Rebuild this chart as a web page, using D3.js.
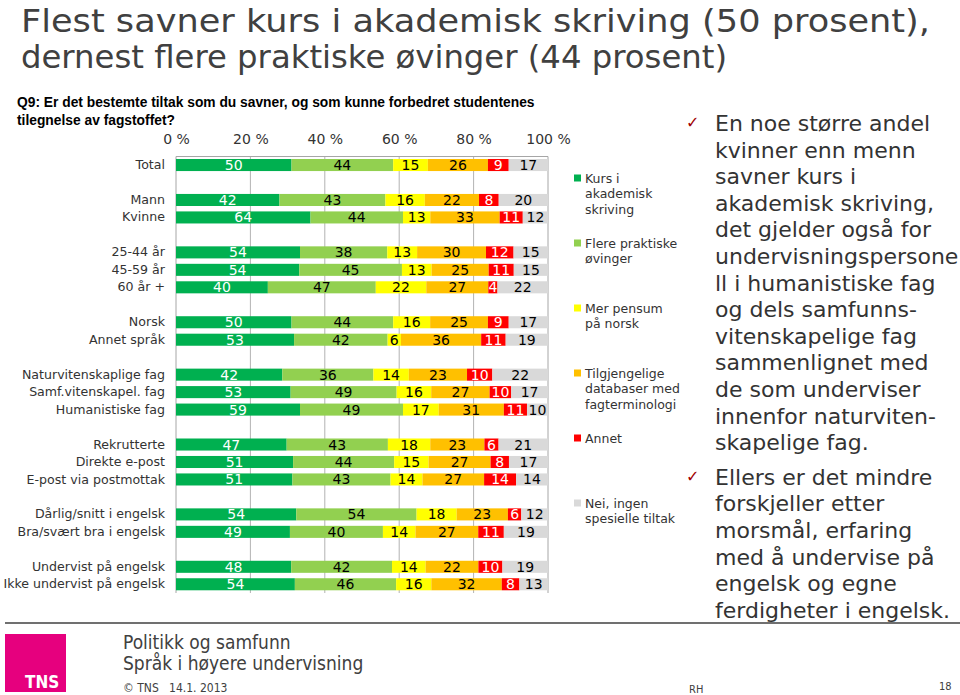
<!DOCTYPE html>
<html>
<head>
<meta charset="utf-8">
<script src="https://cdn.jsdelivr.net/npm/d3@7"></script>
<style>
  body { margin: 0; background: #fff; }
  svg { display: block; font-family: Verdana, "DejaVu Sans", sans-serif; }
</style>
</head>
<body>
<div id="chart"></div>
<script>
// data
var categories = ["Total", "Mann", "Kvinne", "25-44 år", "45-59 år", "60 år +",
  "Norsk", "Annet språk", "Naturvitenskaplige fag", "Samf.vitenskapel. fag",
  "Humanistiske fag", "Rekrutterte", "Direkte e-post", "E-post via postmottak",
  "Dårlig/snitt i engelsk", "Bra/svært bra i engelsk", "Undervist på engelsk",
  "Ikke undervist på engelsk"];
// first category of each new block (blank row drawn before it)
var groupStarts = ["Mann", "25-44 år", "Norsk", "Naturvitenskaplige fag",
  "Rekrutterte", "Dårlig/snitt i engelsk", "Undervist på engelsk"];

var seriesNames = ["Kurs i akademisk skriving", "Flere praktiske øvinger",
  "Mer pensum på norsk", "Tilgjengelige databaser med fagterminologi",
  "Annet", "Nei, ingen spesielle tiltak"];
var legendLines = [["Kurs i", "akademisk", "skriving"], ["Flere praktiske", "øvinger"],
  ["Mer pensum", "på norsk"], ["Tilgjengelige", "databaser med", "fagterminologi"],
  ["Annet"], ["Nei, ingen", "spesielle tiltak"]];

var kurs     = [50, 42, 64, 54, 54, 40, 50, 53, 42, 53, 59, 47, 51, 51, 54, 49, 48, 54];
var ovinger  = [44, 43, 44, 38, 45, 47, 44, 42, 36, 49, 49, 43, 44, 43, 54, 40, 42, 46];
var pensum   = [15, 16, 13, 13, 13, 22, 16, 6, 14, 16, 17, 18, 15, 14, 18, 14, 14, 16];
var database = [26, 22, 33, 30, 25, 27, 25, 36, 23, 27, 31, 23, 27, 27, 23, 27, 22, 32];
var annet    = [9, 8, 11, 12, 11, 4, 9, 11, 10, 10, 11, 6, 8, 14, 6, 11, 10, 8];
var ingen    = [17, 20, 12, 15, 15, 22, 17, 19, 22, 17, 10, 21, 17, 14, 12, 19, 19, 13];
var allSeries = [kurs, ovinger, pensum, database, annet, ingen];

var xTicks = [0, 20, 40, 60, 80, 100];

var colors = ["#00B050", "#92D050", "#FFFF00", "#FFC000", "#FF0000", "#D9D9D9"];
var labelColors = ["#ffffff", "#000000", "#000000", "#000000", "#ffffff", "#000000"];

var comment = [
  ["En noe større andel", "kvinner enn menn", "savner kurs i", "akademisk skriving,",
   "det gjelder også for", "undervisningspersone", "ll i humanistiske fag",
   "og dels samfunns-", "vitenskapelige fag", "sammenlignet med",
   "de som underviser", "innenfor naturviten-", "skapelige fag."],
  ["Ellers er det mindre", "forskjeller etter", "morsmål, erfaring",
   "med å undervise på", "engelsk og egne", "ferdigheter i engelsk."]
];

// basic setup
var svgWidth = 960, svgHeight = 695;
var svg = d3.select("#chart").append("svg")
  .attr("width", svgWidth)
  .attr("height", svgHeight);

// title
var title = svg.append("g").attr("fill", "#404040")
  .style("font-family", "'DejaVu Sans', sans-serif")
  .style("font-size", "32px");
title.append("text").attr("x", 21).attr("y", 32)
  .attr("textLength", 909).attr("lengthAdjust", "spacingAndGlyphs")
  .text("Flest savner kurs i akademisk skriving (50 prosent),");
title.append("text").attr("x", 21).attr("y", 68)
  .attr("textLength", 706).attr("lengthAdjust", "spacingAndGlyphs")
  .text("dernest flere praktiske øvinger (44 prosent)");

// question
var q = svg.append("g")
  .style("font-family", "'Liberation Sans', Arial, sans-serif")
  .style("font-size", "13.8px").style("font-weight", "bold").attr("fill", "#000");
q.append("text").attr("x", 17).attr("y", 107)
  .text("Q9: Er det bestemte tiltak som du savner, og som kunne forbedret studentenes");
q.append("text").attr("x", 17).attr("y", 125).text("tilegnelse av fagstoffet?");

// row slots incl. blank rows between blocks
var slots = [];
categories.forEach(function(c, i) {
  if (groupStarts.indexOf(c) >= 0) slots.push("gap" + i);
  slots.push(c);
});

var x = d3.scaleLinear().domain([0, 100]).range([176, 548]);
var y = d3.scaleBand().domain(slots).range([156.3, 593])
  .paddingInner(0.31).paddingOuter(0.155);

var plotTop = 156.5, plotBottom = 593;

// stacked, normalised to 100 %
var rows = categories.map(function(c, i) {
  var vals = allSeries.map(function(s) { return s[i]; });
  var sum = d3.sum(vals);
  var acc = 0;
  return vals.map(function(v, k) {
    var seg = { cat: c, k: k, v: v, x0: acc / sum * 100 };
    acc += v;
    seg.x1 = acc / sum * 100;
    return seg;
  });
});

// grid lines
svg.append("g").selectAll("line")
  .data(xTicks.slice(1, -1))
  .enter().append("line")
  .attr("x1", function(d) { return x(d); }).attr("x2", function(d) { return x(d); })
  .attr("y1", plotTop).attr("y2", plotBottom)
  .attr("stroke", "#B3B3B3").attr("stroke-width", 1);

// frame: top, left, right
svg.append("path")
  .attr("d", "M" + x(0) + "," + plotBottom + "V" + plotTop + "H" + x(100) + "V" + plotBottom)
  .attr("fill", "none").attr("stroke", "#A6A6A6").attr("stroke-width", 1);

// x axis on top
var xAxis = d3.axisTop(x).tickValues(xTicks).tickSize(0)
  .tickFormat(function(d) { return d + " %"; });
var xg = svg.append("g").attr("transform", "translate(0," + 147 + ")").call(xAxis);
xg.select(".domain").remove();
xg.selectAll("text").style("font-size", "14px").attr("fill", "#333")
  .style("font-family", "Verdana, 'DejaVu Sans', sans-serif");

// y axis labels
var yAxis = d3.axisLeft(y).tickSize(0).tickPadding(0)
  .tickFormat(function(d) { return d.indexOf("gap") === 0 ? "" : d; });
var yg = svg.append("g").attr("transform", "translate(165,0)").call(yAxis);
yg.select(".domain").remove();
yg.selectAll("text").style("font-size", "12.6px").attr("fill", "#333")
  .style("font-family", "Verdana, 'DejaVu Sans', sans-serif");

// bars
var rowG = svg.append("g").selectAll("g.row")
  .data(rows).enter().append("g").attr("class", "row");

rowG.selectAll("rect")
  .data(function(d) { return d; })
  .enter().append("rect")
  .attr("x", function(d) { return x(d.x0); })
  .attr("y", function(d) { return y(d.cat); })
  .attr("width", function(d) { return x(d.x1) - x(d.x0); })
  .attr("height", y.bandwidth())
  .attr("fill", function(d) { return colors[d.k]; });

rowG.selectAll("text")
  .data(function(d) { return d; })
  .enter().append("text")
  .attr("x", function(d) { return (x(d.x0) + x(d.x1)) / 2; })
  .attr("y", function(d) { return y(d.cat) + y.bandwidth() / 2; })
  .attr("dy", "0.36em")
  .attr("text-anchor", "middle")
  .style("font-size", "14px")
  .attr("fill", function(d) { return labelColors[d.k]; })
  .text(function(d) { return d.v; });

// legend
var legendY = [178, 243, 308, 373, 438, 503];
var legend = svg.append("g").selectAll("g")
  .data(seriesNames).enter().append("g")
  .attr("transform", function(d, i) { return "translate(574," + legendY[i] + ")"; });
legend.append("rect").attr("x", 0).attr("y", -3.5).attr("width", 7).attr("height", 7)
  .attr("fill", function(d, i) { return colors[i]; });
legend.append("text")
  .attr("x", 11).attr("y", 0)
  .style("font-size", "12.5px").attr("fill", "#333")
  .selectAll("tspan")
  .data(function(d, i) { return legendLines[i]; })
  .enter().append("tspan")
  .attr("x", 11)
  .attr("dy", function(d, j) { return j === 0 ? "0.36em" : "15.5px"; })
  .text(function(d) { return d; });

// commentary on the right
var cm = svg.append("g").style("font-size", "22px").attr("fill", "#333");
var lineStep = 26.6;
var cy = 131;
comment.forEach(function(par, p) {
  cm.append("text").attr("x", 686).attr("y", cy - 3)
    .attr("fill", "#A00000").style("font-size", "16px").text("\u2713");
  par.forEach(function(line) {
    cm.append("text").attr("x", 715).attr("y", cy).text(line);
    cy += lineStep;
  });
  cy += 8;
});

// footer
svg.append("line").attr("x1", 5).attr("x2", 960).attr("y1", 623).attr("y2", 623)
  .attr("stroke", "#404040").attr("stroke-width", 1.5);
svg.append("rect").attr("x", 5).attr("y", 634).attr("width", 61).attr("height", 58)
  .attr("fill", "#E6007E");
svg.append("text").attr("x", 25).attr("y", 688)
  .style("font-family", "'Liberation Sans Narrow', 'DejaVu Sans Condensed', Arial, sans-serif")
  .style("font-size", "17px").style("font-weight", "bold").attr("fill", "#fff").text("TNS");

var foot = svg.append("g").attr("fill", "#404040")
  .style("font-family", "'DejaVu Sans Condensed', 'DejaVu Sans', sans-serif");
foot.append("text").attr("x", 123).attr("y", 649).style("font-size", "19px")
  .text("Politikk og samfunn");
foot.append("text").attr("x", 123).attr("y", 670).style("font-size", "19px")
  .text("Språk i høyere undervisning");
foot.append("text").attr("x", 123).attr("y", 692).style("font-size", "12px")
  .attr("xml:space", "preserve").text("© TNS   14.1. 2013");
foot.append("text").attr("x", 689).attr("y", 693).style("font-size", "11px").text("RH");
foot.append("text").attr("x", 939).attr("y", 690).style("font-size", "11px").text("18");
</script>
</body>
</html>
